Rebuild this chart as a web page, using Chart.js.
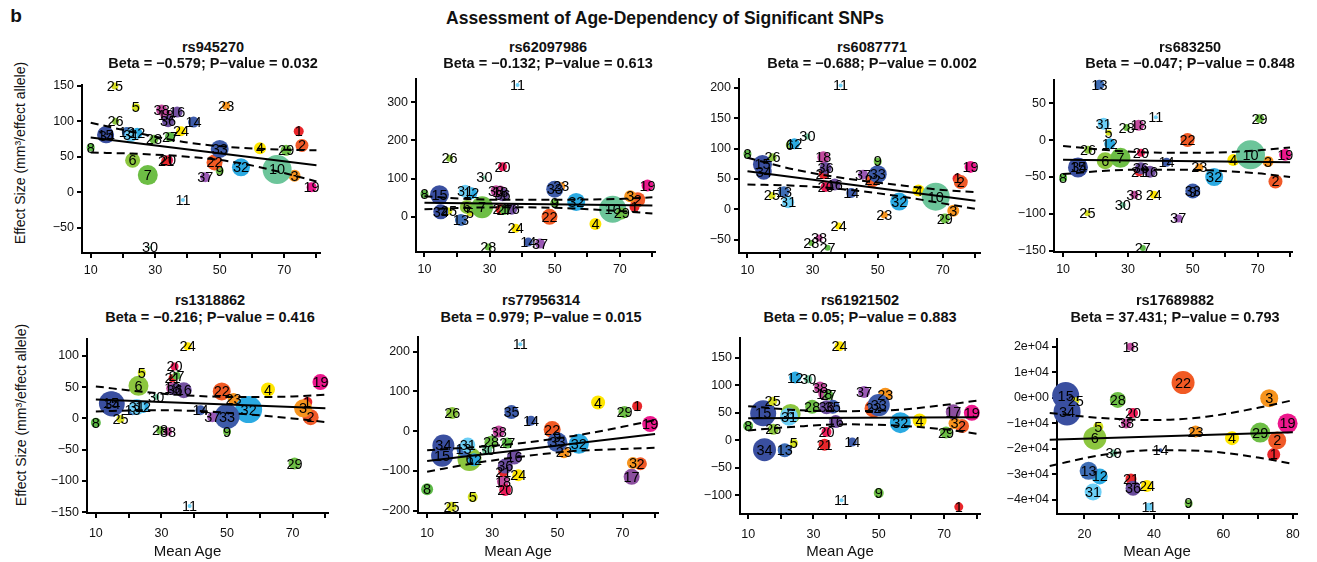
<!DOCTYPE html>
<html><head><meta charset="utf-8">
<script src="https://cdn.jsdelivr.net/npm/chart.js@4.4.1/dist/chart.umd.min.js"></script>
<style>
html,body{margin:0;padding:0;background:#fff;}
#fig{position:relative;width:1317px;height:562px;overflow:hidden;background:#fff;font-family:'Liberation Sans',Arial,Helvetica,sans-serif;color:#111;}
.t{position:absolute;white-space:nowrap;line-height:1;transform:translate(-50%,-50%);}
canvas{position:absolute;}
</style></head><body><div id="fig"></div>
<script>
// ---------------- DATA ----------------
const cohortMeanAge = [74.5,75.5,73.2,62.5,24,23,27.7,10,50,67.8,38.6,24.4,21.2,41.9,14.6,36.8,72.8,33.3,78.5,34,33.4,48.4,52,38,17.5,17.7,34.6,29.6,70.6,28.4,22.5,56.6,50,15,35.9,34,45.5,32];
const snpNames = ['rs945270','rs62097986','rs6087771','rs683250','rs1318862','rs77956314','rs61921502','rs17689882'];
const snpBeta = [-0.579,-0.132,-0.688,-0.047,-0.216,0.979,0.05,37.431];
const snpPValue = [0.032,0.613,0.002,0.848,0.416,0.015,0.883,0.793];
const fitAges = [10,80];
const ciAges = [10,25,40,55,70,80];
const xTicksMain = [10,20,30,40,50,60,70,80];
const xTicksLast = [20,30,40,50,60,70,80];
const xTickLabelsMain = [10,30,50,70];
const xTickLabelsLast = [20,40,60,80];
const yTicks = [
  [-50,0,50,100,150],
  [0,100,200,300],
  [-50,0,50,100,150,200],
  [-150,-100,-50,0,50],
  [-150,-100,-50,0,50,100],
  [-200,-100,0,100,200],
  [-100,-50,0,50,100,150],
  [-40000,-30000,-20000,-10000,0,10000,20000]
];

const rs945270_cohort = [1,2,3,4,5,6,7,8,9,10,11,12,13,14,15,16,18,19,20,21,22,23,24,25,26,27,28,29,30,31,32,33,34,36,37,38];
const rs945270_effect = [86,66,23,62,120,45,24,63,30,32,-11,83,85,99,81,113,109,7,45,44,42,122,86,150,100,78,74.5,59,-78,80,35,61,79,100,21,116];
const rs945270_weight = [5,6.5,6,6,4,7.5,10,4,4,14.5,2,5.5,5,5.5,8.5,5.5,5.5,5,5,5,8,4,5,3.5,3.5,5,4.5,5.5,1.5,6.5,9,9,7,6,5,5.5];
const rs945270_fit = [77,38];
const rs945270_ciUpper = [98,83,70,63,60,59];
const rs945270_ciLower = [56,54,50,42,27,15];

const rs62097986_cohort = [1,2,3,4,5,6,7,8,9,10,11,12,13,14,15,16,18,19,20,21,22,23,24,25,26,27,28,29,30,31,32,33,34,36,37,38];
const rs62097986_effect = [26,45,54,-19,11,26,25,60,36,20,345,62,-8,-66,58,20,66,82,131,20,0,80,-30,15,153,18,-79,9,103,67,39,72,13,58,-70,68];
const rs62097986_weight = [5,7.5,6,6,3.5,7,11,4,4.5,13.5,2,6,6,4.5,9.5,5.5,6,6,4.5,5,8,4,4.5,3.5,3.5,5,3.5,6,2,6.5,9,8.5,7.5,6.5,5,5.5];
const rs62097986_fit = [37,30];
const rs62097986_ciUpper = [54,46,44.5,45,47,51];
const rs62097986_ciLower = [20,24,25,22,15,9];

const rs6087771_cohort = [1,2,3,4,6,8,9,10,11,12,13,14,15,16,18,19,20,21,22,23,24,25,26,27,28,29,30,31,32,33,34,36,37,38];
const rs6087771_effect = [51,45,-2,31,106,91,79,21,204,108,29,27,74,41,86,70,37,58,48,-9,-27,23,86,-63,-55,-15,120,12,13,58,62,68,57,-47];
const rs6087771_weight = [5,7,6,6,4,4,4,14,2,5.5,5.5,5,9.5,6,6,6,5,5,7,3.5,3.5,3.5,4,3,3,5,3,6,9,9,8,6,5,3.5];
const rs6087771_fit = [62.7,14.5];
const rs6087771_ciUpper = [85,65,51,41,32,28.5];
const rs6087771_ciLower = [41,39,33,23,10,1];

const rs683250_cohort = [2,3,4,5,6,7,8,9,10,11,12,13,14,15,16,18,19,20,21,22,23,24,25,26,27,28,29,30,31,32,33,34,36,37,38];
const rs683250_effect = [-56,-29,-27,10,-28,-24,-51,-70,-20,31,-5,75,-30,-37,-43,20,-20,-17,-43,0,-37,-74,-99,-13,-146,17,29,-88,22,-50,-69,-36,-38,-106,-74];
const rs683250_weight = [7,5.5,6,3,8.5,10,4,3,14.5,2,5.5,5,4.5,10,6,5.5,6,4,4.5,7,4,4,3,4,3,3.5,4.5,3,6,9,7.5,8,6,4,4];
const rs683250_fit = [-26.7,-30];
const rs683250_ciUpper = [-8,-14,-17,-17,-14,-10];
const rs683250_ciLower = [-46,-41,-40,-41,-45,-50];

const rs1318862_cohort = [1,2,3,4,5,6,8,9,11,12,13,14,15,16,18,19,20,21,22,23,24,25,27,28,29,30,31,32,33,34,36,37,38];
const rs1318862_effect = [26,2,16,46,73,52,-7,-21,-140,18,13,13,24,45,48,58,83,64,43,31,115,-1,68,-19,-72,34,18,14,3,23,46,2,-21];
const rs1318862_weight = [5,8,9,7,4,10,5,4,2,6,5,5,12,8,6,8,4,4,9,6,4,4,4,4,6,3,8,13.5,12.5,12.5,6,5,4];
const rs1318862_fit = [30,16];
const rs1318862_ciUpper = [51,42,36,34,35,38];
const rs1318862_ciLower = [11,13,12,7,0,-6];

const rs77956314_cohort = [1,2,3,4,5,6,8,9,11,12,13,14,15,16,17,18,19,20,21,22,23,24,25,26,27,28,29,30,31,32,33,34,35,36,38];
const rs77956314_effect = [63,-82,-80,72,-166,-70,-146,-14,219,-72,-46,26,-62,-65,-115,-127,18,-148,-102,4,-53,-111,-190,46,-30,-28,48,-48,-35,-32,-28,-36,48,-88,-1];
const rs77956314_weight = [5,6.5,6,7,5,12,6,4,2,6.5,7,5,11,7.5,8,6,8,6,5,8.5,6,6,5,6,5.5,6.5,6,5,7.5,10,10,11,7,7.5,6];
const rs77956314_fit = [-75,-7];
const rs77956314_ciUpper = [-48,-40,-29,-12,11,28];
const rs77956314_ciLower = [-102,-80,-63,-50,-45,-42];

const rs61921502_cohort = [1,2,3,4,5,6,8,9,11,12,13,14,15,16,17,18,19,20,21,22,23,24,25,26,27,28,29,30,31,32,33,34,35,36,37,38];
const rs61921502_effect = [-121,26,31,36,-5,48,26,-96,-109,114,-18,-3,49,34,52,84,50,15,-8,58,83,171,71,20,82,61,14,111,43,32,64,-17,61,60,88,96];
const rs61921502_weight = [4.5,7,6,7,4,10,5,5,2,6,7,4.5,13,6.5,7.5,6,8,5,6,9,7,5,4.5,5.5,5,7,6,4,9,10.5,11,11.5,7,7,6,6];
const rs61921502_fit = [40,42];
const rs61921502_ciUpper = [62,55,53,55,64,72];
const rs61921502_ciLower = [18,25,29,27,20,12];

const rs17689882_cohort = [1,2,3,4,5,6,9,11,12,13,14,15,18,19,20,21,22,23,24,25,28,29,30,31,34,36,38];
const rs17689882_effect = [-22300,-16800,-200,-15900,-11400,-15900,-41500,-42800,-30900,-28700,-20600,800,20000,-10100,-6000,-31900,5900,-13300,-34700,-1200,-900,-13700,-21700,-37000,-5600,-35500,-10100];
const rs17689882_weight = [6.5,9,9,7,5,11.5,4,4,8,9,2,13.5,4,10,5,5.5,11.5,6,6,3.5,8,10,3.5,8.5,13.5,7.5,5];
const rs17689882_fit = [-16500,-13600];
const rs17689882_ciUpper = [-6000,-8000,-8800,-7500,-4000,-1000];
const rs17689882_ciLower = [-26800,-22500,-20600,-21000,-23500,-26000];

// ---------------- STYLE / LAYOUT ----------------
const cohortColor = ['#E8262B','#F05A28','#F7941E','#FFE600','#D4E21E','#8CC63F','#6DBE45','#5DB947','#6DBE45','#6CC59A',
  '#6DCFF6','#2BAAE2','#3E6DB5','#3D5BA9','#3A4FA0','#7350A0','#8C4F9F','#C34A9E','#EC178C','#EE1D5A',
  '#E8262B','#F15A24','#F7941E','#FFE600','#D7DF23','#8CC63F','#5DB947','#6DBE45','#6DBE45','#74C8A0',
  '#6DCFF6','#2BAAE2','#3D5BA9','#3A4FA0','#3D5BA9','#6A4C9C','#9A59B5','#C34A9E'];
const BUBBLE_SCALE = 1;
const plotRects = [[82,80,320,253],[416,75,655,252],[739,75,980,253],[1054,75,1292,252],
                   [87,335,328,513],[418,335,658,513],[740,335,980,514],[1057,335,1297,514]];
const xRanges = [[7.3,81.1],[7.4,80.8],[7.4,81.4],[7.2,80.6],[7.3,80.8],[7.2,80.9],[7.5,81.0],[12.1,81.2]];
const yRanges = [[-86,152],[-92,362],[-71.6,214.5],[-151.5,82],[-151,127.5],[-206,237],[-134,186],[-45650,23200]];
const titleCx = [213,548,872,1190,210,541,860,1175];

const panels = [
  [rs945270_cohort,rs945270_effect,rs945270_weight,rs945270_fit,rs945270_ciUpper,rs945270_ciLower],
  [rs62097986_cohort,rs62097986_effect,rs62097986_weight,rs62097986_fit,rs62097986_ciUpper,rs62097986_ciLower],
  [rs6087771_cohort,rs6087771_effect,rs6087771_weight,rs6087771_fit,rs6087771_ciUpper,rs6087771_ciLower],
  [rs683250_cohort,rs683250_effect,rs683250_weight,rs683250_fit,rs683250_ciUpper,rs683250_ciLower],
  [rs1318862_cohort,rs1318862_effect,rs1318862_weight,rs1318862_fit,rs1318862_ciUpper,rs1318862_ciLower],
  [rs77956314_cohort,rs77956314_effect,rs77956314_weight,rs77956314_fit,rs77956314_ciUpper,rs77956314_ciLower],
  [rs61921502_cohort,rs61921502_effect,rs61921502_weight,rs61921502_fit,rs61921502_ciUpper,rs61921502_ciLower],
  [rs17689882_cohort,rs17689882_effect,rs17689882_weight,rs17689882_fit,rs17689882_ciUpper,rs17689882_ciLower]
];

const FONT = "'Liberation Sans', Arial, Helvetica, sans-serif";
Chart.defaults.font.family = FONT;
const fig = document.getElementById('fig');
const MINUS = '\u2212';
const fmt = v => (v < 0 ? MINUS : '') + Math.abs(v);
function addText(txt, cx, cy, size, bold, rot) {
  const d = document.createElement('div');
  d.className = 't'; d.textContent = txt;
  d.style.left = cx + 'px'; d.style.top = cy + 'px';
  d.style.fontSize = size + 'px'; d.style.fontWeight = bold ? 'bold' : 'normal';
  if (rot) d.style.transform = 'translate(-50%,-50%) rotate(-90deg)';
  fig.appendChild(d);
}

addText('b', 16, 15, 19, true);
addText('Assessment of Age-Dependency of Significant SNPs', 665, 19, 17.5, true);
addText('Effect Size (mm\u00B3/effect allele)', 20, 152.5, 14, false, true);
addText('Effect Size (mm\u00B3/effect allele)', 21, 415, 14, false, true);

const labelPlugin = {
  id: 'cohortLabels',
  afterDatasetsDraw(chart) {
    const ctx = chart.ctx;
    chart.data.datasets.forEach((ds, di) => {
      if (!ds.cohortLabels) return;
      const meta = chart.getDatasetMeta(di);
      ctx.save();
      ctx.font = '14.5px ' + FONT;
      ctx.fillStyle = '#000'; ctx.textAlign = 'center'; ctx.textBaseline = 'middle';
      meta.data.forEach((el, i) => ctx.fillText(String(ds.cohortLabels[i]), el.x, el.y + 1));
      ctx.restore();
    });
  }
};

panels.forEach((p, k) => {
  const [cohort, effect, weight, fit, up, lo] = p;
  const [L, T, R, B] = plotRects[k];
  const top = k < 4;
  const W = R - L + 60 + 15, H = B - T + 10 + 30;
  const cv = document.createElement('canvas');
  cv.width = W; cv.height = H;
  cv.style.left = (L - 60) + 'px'; cv.style.top = (T - 10) + 'px';
  cv.style.width = W + 'px'; cv.style.height = H + 'px';
  fig.appendChild(cv);

  const ty = top ? [46.7, 63.3] : [300, 316.7];
  addText(snpNames[k], titleCx[k], ty[0], 14.5, true);
  addText('Beta = ' + fmt(snpBeta[k]) + '; P' + MINUS + 'value = ' + snpPValue[k], titleCx[k], ty[1], 14.5, true);
  if (!top) addText('Mean Age', (L + R) / 2 - 20, 550, 15, false);

  const xTickVals = k === 7 ? xTicksLast : xTicksMain;
  const xLabels = k === 7 ? xTickLabelsLast : xTickLabelsMain;
  const lineDs = (xs, ys, dash) => ({
    type: 'line', order: 0, clip: false,
    data: xs.map((a, i) => ({x: a, y: ys[i]})),
    borderColor: '#000', borderWidth: 2, borderDash: dash, pointRadius: 0, pointHoverRadius: 0,
    fill: false, cubicInterpolationMode: dash.length ? 'monotone' : 'default', tension: 0
  });
  const yFmt = k === 7
    ? v => (v === 0 ? '0e+00' : (v < 0 ? MINUS : '') + Math.abs(v / 10000) + 'e+04')
    : v => fmt(v);

  new Chart(cv, {
    type: 'bubble',
    data: {
      datasets: [
        {
          type: 'bubble', order: 1, clip: false,
          data: cohort.map((c, i) => ({x: cohortMeanAge[c - 1], y: effect[i], r: weight[i] * BUBBLE_SCALE})),
          backgroundColor: cohort.map(c => cohortColor[c - 1]),
          borderWidth: 0, hoverRadius: 0, hoverBorderWidth: 0,
          cohortLabels: cohort
        },
        lineDs(fitAges, fit, []),
        lineDs(ciAges, up, [8, 5]),
        lineDs(ciAges, lo, [8, 5])
      ]
    },
    options: {
      responsive: false, animation: false, events: [], devicePixelRatio: 1,
      layout: {padding: {left: 0, right: 15, top: 10, bottom: 0}},
      plugins: {legend: {display: false}, tooltip: {enabled: false}, title: {display: false}},
      scales: {
        x: {
          type: 'linear', min: xRanges[k][0], max: xRanges[k][1],
          afterFit: s => { s.height = 30; },
          afterBuildTicks: s => { s.ticks = xTickVals.map(v => ({value: v})); },
          border: {display: true, color: '#000', width: 2},
          grid: {display: true, drawOnChartArea: false, drawTicks: true, tickLength: 5, color: '#000', lineWidth: 2},
          ticks: {autoSkip: false, maxRotation: 0, minRotation: 0,
                  padding: top ? 5 : 8, color: '#111', font: {size: 12.5},
                  callback: v => xLabels.includes(v) ? String(v) : ''}
        },
        y: {
          type: 'linear', min: yRanges[k][0], max: yRanges[k][1],
          afterFit: s => { s.width = 60; },
          afterBuildTicks: s => { s.ticks = yTicks[k].map(v => ({value: v})); },
          border: {display: true, color: '#000', width: 2},
          grid: {display: true, drawOnChartArea: false, drawTicks: true, tickLength: 5, color: '#000', lineWidth: 2},
          ticks: {autoSkip: false, padding: 3, color: '#111', font: {size: 12.5}, callback: yFmt}
        }
      }
    },
    plugins: [labelPlugin]
  });
});
</script></body></html>
